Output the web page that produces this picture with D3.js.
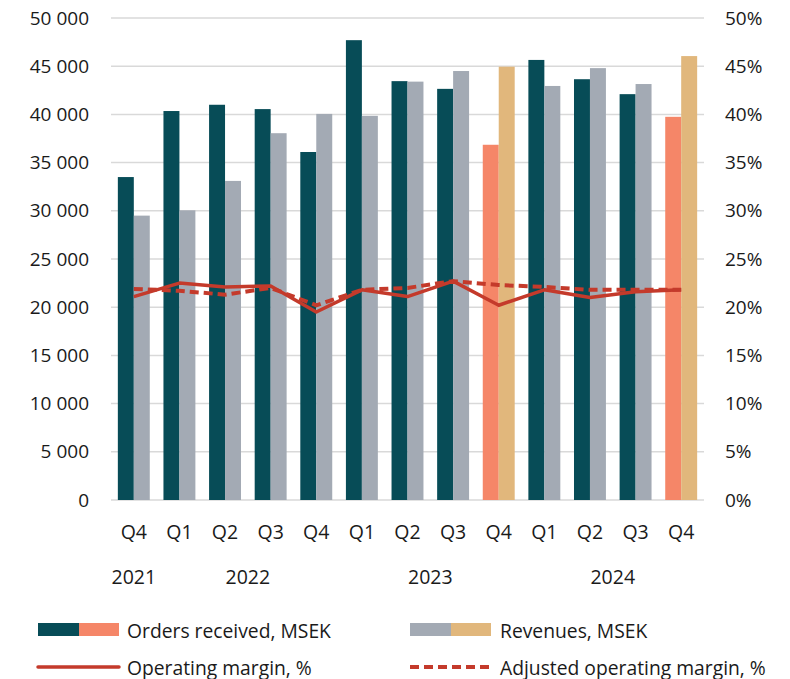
<!DOCTYPE html>
<html>
<head>
<meta charset="utf-8">
<script src="https://cdn.jsdelivr.net/npm/d3@7"></script>
<style>
  body { margin: 0; background: #fff; }
  text { font-family: "Open Sans", sans-serif; fill: #1a1a1a; }
</style>
</head>
<body>
<svg id="chart" width="790" height="679"></svg>
<script>
var quarters = ["Q4", "Q1", "Q2", "Q3", "Q4", "Q1", "Q2", "Q3", "Q4", "Q1", "Q2", "Q3", "Q4"];
var years = [
  { label: "2021", from: 0, to: 0 },
  { label: "2022", from: 1, to: 4 },
  { label: "2023", from: 5, to: 8 },
  { label: "2024", from: 9, to: 12 }
];
var ordersReceived = [33500, 40350, 41000, 40550, 36100, 47700, 43450, 42650, 36850, 45650, 43650, 42100, 39750];
var revenues = [29500, 30050, 33100, 38050, 40050, 39850, 43400, 44500, 44950, 42950, 44800, 43150, 46050];
var operatingMargin = [21.1, 22.5, 22.1, 22.2, 19.5, 21.8, 21.1, 22.7, 20.2, 21.8, 21.0, 21.6, 21.8];
var adjustedMargin = [21.9, 21.7, 21.3, 22.0, 20.2, 21.8, 22.0, 22.7, 22.3, 22.1, 21.8, 21.8, 21.8];
var highlighted = [8, 12];
var leftTicks = [0, 5000, 10000, 15000, 20000, 25000, 30000, 35000, 40000, 45000, 50000];
var rightTicks = [0, 5, 10, 15, 20, 25, 30, 35, 40, 45, 50];

var colors = {
  orders: "#074c57", ordersHi: "#f58668",
  revenues: "#a3aab4", revenuesHi: "#e1b77c",
  margin: "#c43a2b", grid: "#d9d9d9"
};

var svg = d3.select("#chart");
var plotLeft = 111, plotRight = 704, plotTop = 18, plotBottom = 500;

var x = d3.scaleBand().domain(d3.range(quarters.length)).range([plotLeft, plotRight])
  .paddingInner(0.3).paddingOuter(0.15);
var xSub = d3.scaleBand().domain(["orders", "revenues"]).range([0, x.bandwidth()]);
var y = d3.scaleLinear().domain([0, 50000]).range([plotBottom, plotTop]);
var y2 = d3.scaleLinear().domain([0, 50]).range([plotBottom, plotTop]);

var fmt = d3.formatLocale({ decimal: ",", thousands: "\u00a0", grouping: [3], currency: ["", ""] }).format(",");

// gridlines
svg.append("g").selectAll("line").data(leftTicks).join("line")
  .attr("x1", plotLeft).attr("x2", plotRight)
  .attr("y1", function(d){ return y(d); }).attr("y2", function(d){ return y(d); })
  .attr("stroke", colors.grid).attr("stroke-width", 1.5);

// left axis
var leftAxis = svg.append("g").attr("transform", "translate(" + plotLeft + ",0)")
  .call(d3.axisLeft(y).tickValues(leftTicks).tickSize(0).tickPadding(22).tickFormat(fmt));
leftAxis.select(".domain").remove();
leftAxis.selectAll("text").style("font-family", "'Open Sans', sans-serif").style("font-size", "19px").attr("fill", "#1a1a1a");

// right axis
var rightAxis = svg.append("g").attr("transform", "translate(" + plotRight + ",0)")
  .call(d3.axisRight(y2).tickValues(rightTicks).tickSize(0).tickPadding(21).tickFormat(function(d){ return d + "%"; }));
rightAxis.select(".domain").remove();
rightAxis.selectAll("text").style("font-family", "'Open Sans', sans-serif").style("font-size", "19px").attr("fill", "#1a1a1a");

// bars
var groups = svg.append("g").selectAll("g").data(quarters).join("g")
  .attr("transform", function(d, i){ return "translate(" + x(i) + ",0)"; });

groups.append("rect")
  .attr("x", xSub("orders")).attr("width", xSub.bandwidth())
  .attr("y", function(d, i){ return y(ordersReceived[i]); })
  .attr("height", function(d, i){ return plotBottom - y(ordersReceived[i]); })
  .attr("fill", function(d, i){ return highlighted.indexOf(i) >= 0 ? colors.ordersHi : colors.orders; });

groups.append("rect")
  .attr("x", xSub("revenues")).attr("width", xSub.bandwidth())
  .attr("y", function(d, i){ return y(revenues[i]); })
  .attr("height", function(d, i){ return plotBottom - y(revenues[i]); })
  .attr("fill", function(d, i){ return highlighted.indexOf(i) >= 0 ? colors.revenuesHi : colors.revenues; });

// margin lines
var cx = function(i){ return x(i) + x.bandwidth() / 2; };
var line = d3.line().x(function(d, i){ return cx(i); }).y(function(d){ return y2(d); });

svg.append("path").datum(operatingMargin).attr("d", line)
  .attr("fill", "none").attr("stroke", colors.margin).attr("stroke-width", 3.5)
  .attr("stroke-linejoin", "round");

svg.append("path").datum(adjustedMargin).attr("d", line)
  .attr("fill", "none").attr("stroke", colors.margin).attr("stroke-width", 4)
  .attr("stroke-dasharray", "9,5");

// category labels
svg.append("g").selectAll("text").data(quarters).join("text")
  .attr("x", function(d, i){ return cx(i); }).attr("y", 531)
  .attr("text-anchor", "middle").attr("dominant-baseline", "central")
  .style("font-size", "19.5px").text(function(d){ return d; });

svg.append("g").selectAll("text").data(years).join("text")
  .attr("x", function(d){ return (cx(d.from) + cx(d.to)) / 2; }).attr("y", 576)
  .attr("text-anchor", "middle").attr("dominant-baseline", "central")
  .style("font-size", "19.5px").text(function(d){ return d.label; });

// legend
var legend = svg.append("g");
function swatch(x0, y0, c1, c2) {
  legend.append("rect").attr("x", x0).attr("y", y0).attr("width", 41).attr("height", 13).attr("fill", c1);
  legend.append("rect").attr("x", x0 + 41).attr("y", y0).attr("width", 40).attr("height", 13).attr("fill", c2);
}
function label(x0, yc, t) {
  legend.append("text").attr("x", x0).attr("y", yc).attr("dominant-baseline", "central")
    .style("font-size", "19.3px").text(t);
}
swatch(38, 623, colors.orders, colors.ordersHi);
label(127, 630, "Orders received, MSEK");
swatch(410, 623, colors.revenues, colors.revenuesHi);
label(500, 630, "Revenues, MSEK");

legend.append("line").attr("x1", 38).attr("x2", 119).attr("y1", 667).attr("y2", 667)
  .attr("stroke", colors.margin).attr("stroke-width", 3.5).attr("stroke-linecap", "round");
label(127, 667, "Operating margin, %");
legend.append("line").attr("x1", 410).attr("x2", 491).attr("y1", 667).attr("y2", 667)
  .attr("stroke", colors.margin).attr("stroke-width", 4).attr("stroke-dasharray", "9,5");
label(500, 667, "Adjusted operating margin, %");
</script>
</body>
</html>
